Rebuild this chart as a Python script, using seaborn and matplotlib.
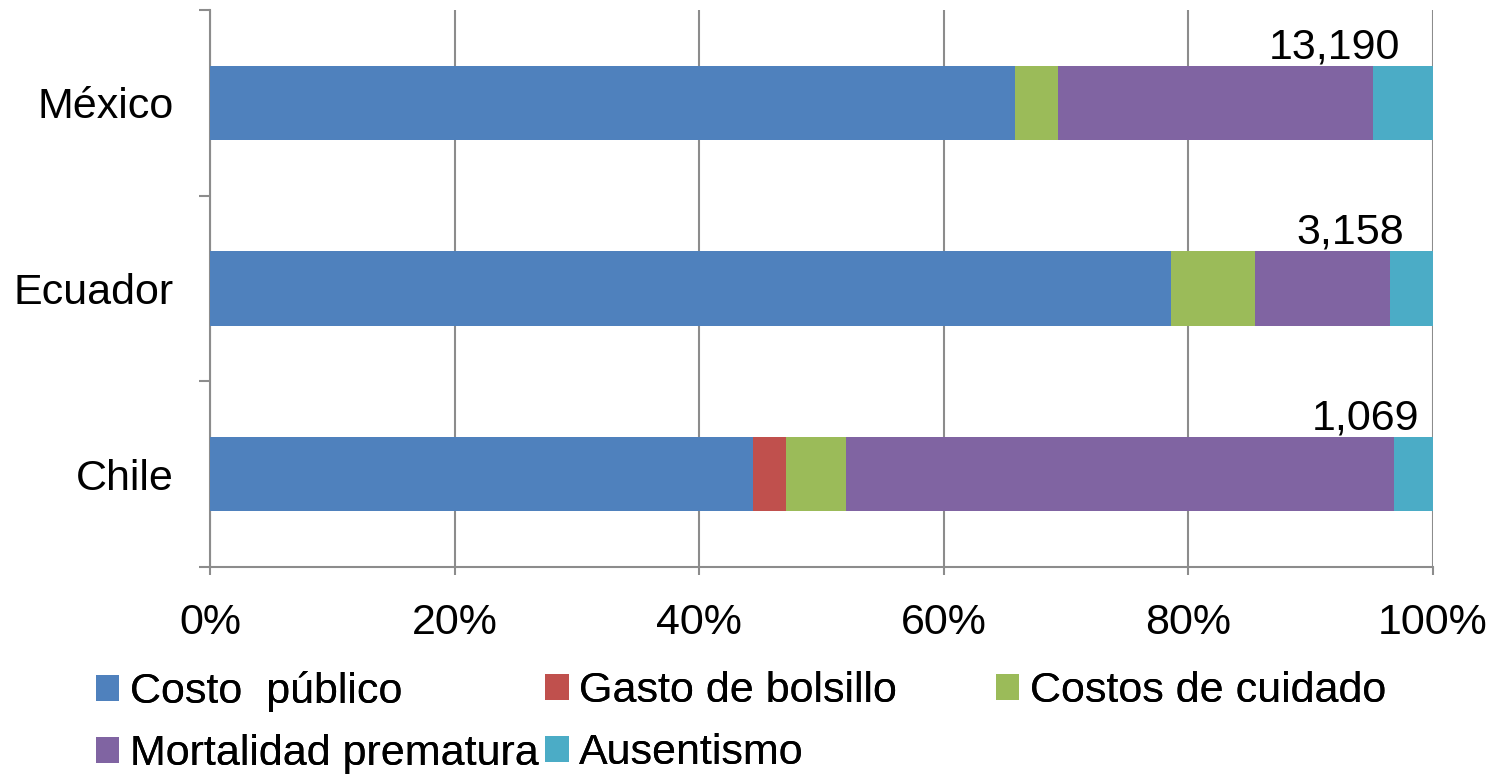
import numpy as np
import pandas as pd
import seaborn as sns
import matplotlib.pyplot as plt
from matplotlib.patches import Patch

countries = ["México", "Ecuador", "Chile"]
totals = ["13,190", "3,158", "1,069"]
components = ["Costo  público", "Gasto de bolsillo", "Costos de cuidado",
              "Mortalidad prematura", "Ausentismo"]
costo_publico = [65.8, 78.6, 44.4]
gasto_bolsillo = [0.0, 0.0, 2.7]
costos_cuidado = [3.5, 6.8, 4.9]
mortalidad = [25.8, 11.1, 44.8]
ausentismo = [4.9, 3.5, 3.2]
colors = ["#4F81BD", "#C0504D", "#9BBB59", "#8064A2", "#4BACC6"]

sns.set_style("white")
plt.rcParams["font.family"] = ["Liberation Sans", "DejaVu Sans"]
plt.rcParams["text.color"] = "black"
plt.rcParams["xtick.labelcolor"] = "black"
plt.rcParams["ytick.labelcolor"] = "black"

shares = np.array([costo_publico, gasto_bolsillo, costos_cuidado, mortalidad, ausentismo])
cum = np.cumsum(shares, axis=0)
cum = cum / cum[-1] * 100

fig, ax = plt.subplots(figsize=(14.97, 7.74), dpi=100)
fig.subplots_adjust(left=0.1403, right=0.9573, top=0.987, bottom=0.2674)

# stack by drawing the cumulative totals from largest to smallest
for i in range(len(components) - 1, -1, -1):
    df = pd.DataFrame({"pais": countries, "valor": cum[i]})
    sns.barplot(data=df, x="valor", y="pais", orient="h", color=colors[i],
                width=0.4, saturation=1, linewidth=0, ax=ax, zorder=3)

ax.set_xlim(0, 100)
ax.set_ylim(2.5, -0.5)
ax.set_xticks(np.arange(0, 101, 20))
ax.set_xticklabels([f"{v}%" for v in range(0, 101, 20)])
ax.set_xlabel("")
ax.set_ylabel("")
ax.grid(axis="x", color="#8C8C8C", linewidth=1.5, zorder=0)
ax.grid(axis="y", visible=False)

for s in ["top", "right"]:
    ax.spines[s].set_visible(False)
for s in ["left", "bottom"]:
    ax.spines[s].set_color("#8C8C8C")
    ax.spines[s].set_linewidth(1.5)

ax.set_yticks([-0.5, 0.5, 1.5, 2.5], minor=True)
ax.tick_params(axis="y", which="major", length=0, pad=26, labelsize=31,
               labelcolor="black")
ax.tick_params(axis="y", which="minor", length=8, width=1.5, color="#8C8C8C",
               direction="out", left=True)
ax.tick_params(axis="x", which="major", length=6, width=1.5, color="#8C8C8C",
               direction="out", bottom=True, pad=20, labelsize=31,
               labelcolor="black")

label_x = [91.9, 93.2, 94.5]
for j, t in enumerate(totals):
    ax.text(label_x[j], j - 0.3, t, ha="center", va="center", fontsize=31,
            color="black", zorder=5)

handles = [Patch(facecolor=c, edgecolor="none") for c in colors]
cols = [[0, 3], [1, 4], [2]]
col_x = [0.064, 0.364, 0.665]
for cx, idx in zip(col_x, cols):
    leg = fig.legend([handles[k] for k in idx], [components[k] for k in idx],
                     loc="upper left", bbox_to_anchor=(cx, 0.133), frameon=False,
                     fontsize=31, handlelength=0.55, handleheight=0.55,
                     handletextpad=0.25, labelspacing=0.52, borderpad=0,
                     borderaxespad=0, labelcolor="black")
    fig.add_artist(leg)

fig.savefig("out.png", dpi=100)
